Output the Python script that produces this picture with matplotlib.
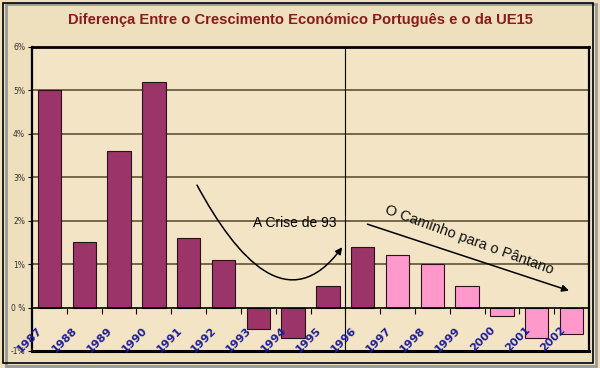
import matplotlib
matplotlib.use("Agg")
import matplotlib.pyplot as plt
from matplotlib.patches import Rectangle, FancyArrowPatch
from matplotlib.path import Path

anos = ['1987', '1988', '1989', '1990', '1991', '1992', '1993', '1994',
        '1995', '1996', '1997', '1998', '1999', '2000', '2001', '2002']
diferenca = [5.0, 1.5, 3.6, 5.2, 1.6, 1.1, -0.5, -0.7,
             0.5, 1.4, 1.2, 1.0, 0.5, -0.2, -0.7, -0.6]
# ate 1996 = dados, depois = previsoes
cores = ['#9b3468'] * 10 + ['#ff99cc'] * 6

fundo = '#f2e4c4'

fig = plt.figure(figsize=(6, 3.68), dpi=100)
fig.patch.set_facecolor('#eedfbd')

# moldura exterior com sombra
fig.patches.append(Rectangle((6 / 600, 1 - 366 / 368), 590 / 600, 362 / 368,
                             transform=fig.transFigure, facecolor='none',
                             edgecolor='#9a9a9a', lw=2, zorder=0))
fig.patches.append(Rectangle((3 / 600, 1 - 363 / 368), 590 / 600, 360 / 368,
                             transform=fig.transFigure, facecolor='none',
                             edgecolor='black', lw=1.2, zorder=1))

ax = fig.add_axes([32 / 600, 1 - 351 / 368, 557 / 600, 304 / 368])
ax.set_facecolor(fundo)

x = range(len(anos))
ax.bar(x, diferenca, width=0.67, color=cores, edgecolor='#2a1020',
       linewidth=0.8, zorder=3)

ax.set_xlim(-0.5, len(anos) - 0.5)
ax.set_ylim(-1, 6)
ax.set_yticks(range(-1, 7))
ax.set_yticklabels(['%d%%' % v if v != 0 else '0 %' for v in range(-1, 7)],
                   fontsize=5.5, color='#333333')
ax.tick_params(axis='y', length=3, width=0.8, pad=2)

for v in range(1, 6):
    ax.axhline(v, color='#54462a', lw=1.1, zorder=1)
ax.axvline(8.5, color='black', lw=0.8, zorder=1)

# eixo x no 0%
ax.spines['bottom'].set_position(('data', 0))
ax.spines['bottom'].set_linewidth(1.2)
ax.spines['bottom'].set_zorder(4)
ax.set_xticks([i - 0.5 for i in x][1:])
ax.set_xticklabels([])
ax.tick_params(axis='x', length=4, width=0.8, direction='out')
ax.axhline(-1, color='black', lw=2.2, zorder=5, clip_on=False)
for s in ['top', 'left', 'right']:
    ax.spines[s].set_linewidth(1.6)
ax.spines['top'].set_linewidth(2)

for i, ano in enumerate(anos):
    ax.annotate(ano, xy=(i, 0), xytext=(-6, -15), textcoords='offset points',
                rotation=45, rotation_mode='anchor', ha='right', va='center',
                fontsize=8, fontweight='bold', color='#1e1e96',
                annotation_clip=False, zorder=6)

fig.text(0.5, 1 - 20 / 368,
         'Diferença Entre o Crescimento Económico Português e o da UE15',
         ha='center', va='center', fontsize=10.6, fontweight='bold',
         color='#8b1a1a', family='Liberation Sans')

# A Crise de 93
curva = Path([(4.24, 2.82), (5.4, 1.1), (6.9, -0.25), (8.41, 1.39)],
             [Path.MOVETO, Path.CURVE4, Path.CURVE4, Path.CURVE4])
ax.add_patch(FancyArrowPatch(path=curva, arrowstyle='-|>', mutation_scale=10,
                             color='black', lw=1.1, zorder=6))
ax.text(5.85, 1.85, 'A Crise de 93', fontsize=10, color='black',
        family='Liberation Sans', zorder=6)

# O Caminho para o Pantano
ax.annotate('', xy=(15.0, 0.37), xytext=(9.06, 1.94),
            arrowprops=dict(arrowstyle='-|>', color='black', lw=1.1,
                            mutation_scale=10), zorder=6)
ax.text(9.65, 2.25, 'O Caminho para o Pântano', fontsize=10.5,
        rotation=-20, rotation_mode='anchor', ha='left', va='center',
        family='Liberation Sans', color='#111111', zorder=6)

fig.savefig('out.png', dpi=100, facecolor=fig.get_facecolor())
